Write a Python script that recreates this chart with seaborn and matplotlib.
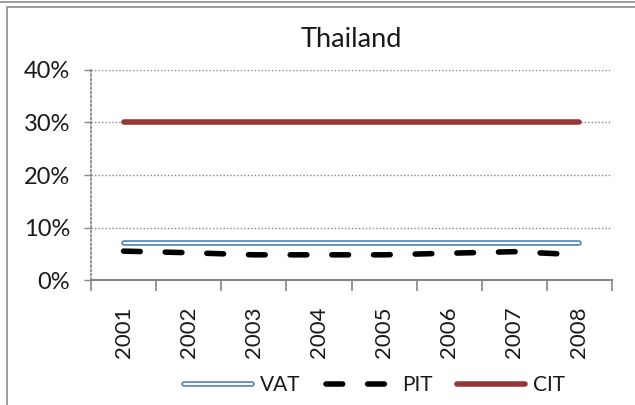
import numpy as np
import pandas as pd
import matplotlib
matplotlib.use("Agg")
import matplotlib.pyplot as plt
import matplotlib.patheffects as pe
from matplotlib.lines import Line2D
from matplotlib.ticker import FuncFormatter
import seaborn as sns

years = ["2001", "2002", "2003", "2004", "2005", "2006", "2007", "2008"]
vat = [0.07, 0.07, 0.07, 0.07, 0.07, 0.07, 0.07, 0.07]
pit = [0.055, 0.052, 0.048, 0.048, 0.048, 0.051, 0.054, 0.048]
cit = [0.30, 0.30, 0.30, 0.30, 0.30, 0.30, 0.30, 0.30]
yticks = [0.0, 0.1, 0.2, 0.3, 0.4]

sns.set_theme(style="white")
plt.rcParams["font.family"] = ["Lato", "DejaVu Sans"]

df = pd.DataFrame({"year": years * 3,
                   "pos": list(range(len(years))) * 3,
                   "value": vat + pit + cit,
                   "series": ["VAT"] * 8 + ["PIT"] * 8 + ["CIT"] * 8})

blue = "#4F81BD"
red = "#953735"
grey = "#868686"
txt = "#1a1a1a"
pit_dash = [3.0, 4.5]

fig = plt.figure(figsize=(6.35, 4.05), dpi=100)
ax = fig.add_axes([0.1433, 0.3086, 0.8205, 0.5186])

# chart frame
fig.add_artist(plt.Rectangle((7 / 635, -0.1), 2.0, 1 - 7 / 405 + 0.1, transform=fig.transFigure,
                             fill=False, edgecolor="#8c8c8c", linewidth=1.2))
fig.add_artist(Line2D([0, 1], [1 - 1.5 / 405] * 2, transform=fig.transFigure,
                      color="#8c8c8c", linewidth=1.2))

sns.lineplot(data=df[df.series == "CIT"], x="pos", y="value", ax=ax,
             color=red, linewidth=4.0, solid_capstyle="round", legend=False)
sns.lineplot(data=df[df.series == "VAT"], x="pos", y="value", ax=ax,
             color="white", linewidth=1.6, solid_capstyle="round", legend=False,
             path_effects=[pe.Stroke(linewidth=4.0, foreground=blue), pe.Normal()])
sns.lineplot(data=df[df.series == "PIT"], x="pos", y="value", ax=ax,
             color="black", linewidth=4.0, dash_capstyle="round", legend=False)
ax.lines[-1].set_dashes(pit_dash)

ax.set_xlim(-0.5, len(years) - 0.5)
ax.set_ylim(0, 0.4)
ax.set_yticks(yticks)
ax.yaxis.set_major_formatter(FuncFormatter(lambda v, p: f"{v * 100:.0f}%"))
ax.set_xticks(range(len(years)))
ax.set_xticklabels(years, rotation=90)
ax.set_xticks(np.arange(-0.5, len(years)), minor=True)
ax.tick_params(axis="x", which="major", length=0, pad=19, labelsize=16, colors=txt)
ax.tick_params(axis="x", which="minor", length=8, width=1.2, color=grey, direction="out", bottom=True)
ax.tick_params(axis="y", length=5, width=1, color=grey, direction="out", left=True,
               labelsize=17, pad=10, labelcolor=txt)
ax.set_xlabel("")
ax.set_ylabel("")
ax.grid(axis="y", linestyle=(0, (1, 1.5)), color=grey, linewidth=1)
ax.grid(axis="x", visible=False)
for s in ["top", "right"]:
    ax.spines[s].set_visible(False)
ax.spines["left"].set_linestyle((0, (1, 1.5)))
ax.spines["left"].set_color(grey)
ax.spines["bottom"].set_color(grey)
ax.spines["bottom"].set_linewidth(1.5)
ax.set_title("Thailand", fontsize=19.5, pad=16.5, color=txt)

h_vat = Line2D([], [], color="white", linewidth=1.6,
               path_effects=[pe.Stroke(linewidth=4.0, foreground=blue), pe.Normal()])
h_pit = Line2D([], [], color="black", linewidth=4.0, dashes=pit_dash, dash_capstyle="round")
h_cit = Line2D([], [], color=red, linewidth=4.0)
fig.legend([h_vat, h_pit, h_cit], ["VAT", "PIT", "CIT"], loc="center",
           bbox_to_anchor=(0.59, 1 - 385 / 405), ncol=3, frameon=False,
           fontsize=15, handlelength=3.27, handletextpad=0.38, columnspacing=1.2,
           labelcolor=txt)

fig.savefig("out.png", dpi=100)
